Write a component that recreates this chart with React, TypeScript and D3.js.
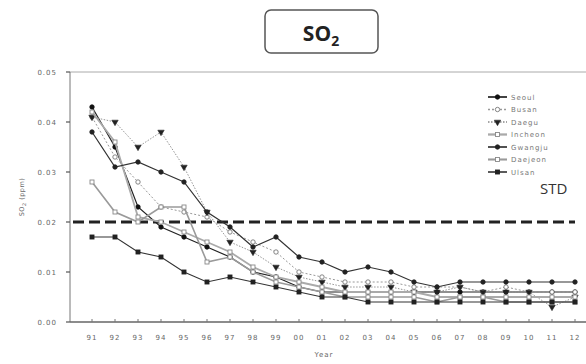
import React from 'react';
import * as d3 from 'd3';

const years = ['91','92','93','94','95','96','97','98','99','00','01','02','03','04','05','06','07','08','09','10','11','12'];
const cities = ['Seoul','Busan','Daegu','Incheon','Gwangju','Daejeon','Ulsan'];
const seoul   = [0.043,0.035,0.023,0.019,0.017,0.015,0.013,0.010,0.009,0.007,0.006,0.006,0.006,0.006,0.006,0.006,0.006,0.006,0.006,0.006,0.006,0.006];
const busan   = [0.041,0.033,0.028,0.023,0.022,0.021,0.018,0.016,0.014,0.010,0.009,0.008,0.008,0.008,0.007,0.007,0.007,0.006,0.007,0.006,0.006,0.006];
const daegu   = [0.041,0.040,0.035,0.038,0.031,0.022,0.016,0.014,0.011,0.009,0.008,0.007,0.007,0.007,0.006,0.006,0.007,0.006,0.006,0.006,0.003,0.005];
const incheon = [0.042,0.036,0.021,0.020,0.018,0.016,0.014,0.011,0.009,0.008,0.007,0.006,0.006,0.006,0.006,0.005,0.005,0.005,0.005,0.005,0.005,0.005];
const gwangju = [0.038,0.031,0.032,0.030,0.028,0.022,0.019,0.015,0.017,0.013,0.012,0.010,0.011,0.010,0.008,0.007,0.008,0.008,0.008,0.008,0.008,0.008];
const daejeon = [0.028,0.022,0.020,0.023,0.023,0.012,0.013,0.010,0.008,0.007,0.006,0.005,0.005,0.005,0.005,0.004,0.005,0.005,0.004,0.004,0.004,0.004];
const ulsan   = [0.017,0.017,0.014,0.013,0.010,0.008,0.009,0.008,0.007,0.006,0.005,0.005,0.004,0.004,0.004,0.004,0.004,0.004,0.004,0.004,0.004,0.004];
const seriesValues = [seoul, busan, daegu, incheon, gwangju, daejeon, ulsan];
const yTicks = [0, 0.01, 0.02, 0.03, 0.04, 0.05];
const stdValue = 0.02;

const styles = [
  { stroke: '#222', width: 1.2, dash: '', marker: 'circle', fill: '#111', mstroke: '#111' },
  { stroke: '#999', width: 1, dash: '2,2', marker: 'circle', fill: '#fff', mstroke: '#777' },
  { stroke: '#888', width: 0.9, dash: '1.5,1.5', marker: 'triangle', fill: '#222', mstroke: '#222' },
  { stroke: '#aaa', width: 1.8, dash: '', marker: 'square', fill: '#fff', mstroke: '#888' },
  { stroke: '#333', width: 1.2, dash: '', marker: 'circle', fill: '#222', mstroke: '#222' },
  { stroke: '#9a9a9a', width: 1.6, dash: '', marker: 'square', fill: '#fff', mstroke: '#888' },
  { stroke: '#333', width: 1.1, dash: '', marker: 'square', fill: '#222', mstroke: '#222' },
];

function Marker({ x, y, type, fill, stroke }: any) {
  if (type === 'circle') return <circle cx={x} cy={y} r={2.2} fill={fill} stroke={stroke} strokeWidth={0.9} />;
  if (type === 'square') return <rect x={x - 2} y={y - 2} width={4} height={4} fill={fill} stroke={stroke} strokeWidth={0.9} />;
  const p = d3.symbol(d3.symbolTriangle, 18)() as string;
  return <path d={p} transform={`translate(${x},${y}) rotate(180)`} fill={fill} stroke={stroke} strokeWidth={0.5} />;
}

export default function App() {
  const W = 586, H = 364;
  const left = 70, top = 72, bottom = 322;
  const x = d3.scalePoint<string>().domain(years).range([92, 575]);
  const y = d3.scaleLinear().domain([0, 0.05]).range([bottom, top]);
  const line = d3.line<number>().x((_, i) => x(years[i]) as number).y(d => y(d));
  const fmt = d3.format('.2f');
  const legX = 488, legY = 97, legStep = 12.5;

  return (
    <svg width={W} height={H} style={{ position: 'absolute', left: 0, top: 0, background: '#fff' }}
      fontFamily="'DejaVu Sans', sans-serif">
      <rect width={W} height={H} fill="#fff" />
      <rect x={265} y={10} width={113} height={43} rx={6} fill="#fff" stroke="#555" strokeWidth={1.5} />
      <text x={321} y={41} textAnchor="middle" fontFamily="'Open Sans', sans-serif" fontWeight="bold" fontSize={21} fill="#222">
        SO<tspan fontSize={14} dy={5}>2</tspan>
      </text>

      <line x1={left} x2={W} y1={top} y2={top} stroke="#aaa" strokeWidth={1} />
      <line x1={left} x2={left} y1={top} y2={bottom} stroke="#777" strokeWidth={1} />
      <line x1={left} x2={W} y1={bottom} y2={bottom} stroke="#666" strokeWidth={1.3} />

      {yTicks.map(t => (
        <g key={t}>
          <line x1={left - 4} x2={left} y1={y(t)} y2={y(t)} stroke="#555" strokeWidth={1.2} />
          <text x={57} y={y(t) + 2.5} textAnchor="end" fontSize={7} fill="#666" letterSpacing={1}>{fmt(t)}</text>
        </g>
      ))}
      {years.map(yr => (
        <g key={yr}>
          <line x1={x(yr)} x2={x(yr)} y1={bottom} y2={bottom - 3} stroke="#777" strokeWidth={1} />
          <text x={x(yr)} y={340} textAnchor="middle" fontSize={7} fill="#666" letterSpacing={1}>{yr}</text>
        </g>
      ))}
      <text x={324} y={357} textAnchor="middle" fontSize={7} fill="#666" letterSpacing={1}>Year</text>
      <text transform={`translate(24,${y(0.025)}) rotate(-90)`} textAnchor="middle" fontSize={6.5} fill="#666" letterSpacing={0.5}>
        SO<tspan fontSize={5} dy={2}>2</tspan><tspan dy={-2}> (ppm)</tspan>
      </text>

      <line x1={left + 3} x2={575} y1={y(stdValue)} y2={y(stdValue)} stroke="#222" strokeWidth={3} strokeDasharray="11,5" />
      <text x={540} y={194} fontFamily="'Open Sans', sans-serif" fontSize={15} fill="#333">STD</text>

      {seriesValues.map((vals, si) => {
        const s = styles[si];
        return (
          <g key={cities[si]}>
            <path d={line(vals) as string} fill="none" stroke={s.stroke} strokeWidth={s.width} strokeDasharray={s.dash} />
            {vals.map((v, i) => (
              <Marker key={i} x={x(years[i])} y={y(v)} type={s.marker} fill={s.fill} stroke={s.mstroke} />
            ))}
          </g>
        );
      })}

      {cities.map((c, i) => {
        const s = styles[i];
        const ly = legY + i * legStep;
        return (
          <g key={c}>
            <line x1={legX} x2={legX + 19} y1={ly} y2={ly} stroke={s.stroke} strokeWidth={s.width + 0.5} strokeDasharray={s.dash} />
            <Marker x={legX + 9.5} y={ly} type={s.marker} fill={s.fill} stroke={s.mstroke} />
            <text x={legX + 23} y={ly + 2.5} fontSize={7} fill="#777" letterSpacing={1}>{c}</text>
          </g>
        );
      })}
    </svg>
  );
}
